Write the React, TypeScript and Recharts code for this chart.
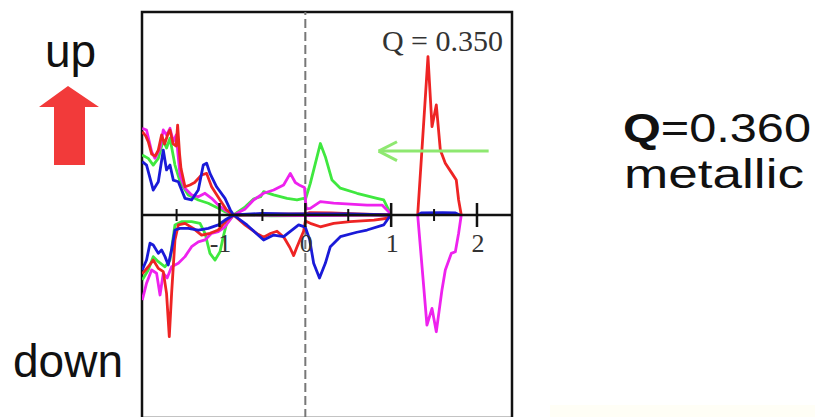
import React from "react";
import {
  ComposedChart,
  Line,
  Scatter,
  XAxis,
  YAxis,
  ReferenceLine,
  ReferenceArea,
} from "recharts";

// Energy axis (eV) and projected DOS, spin up positive, spin down negative.
// Each curve is a list of [energy, dos] pairs; null breaks the line.
type Pt = [number, number | null];

const redUp: Pt[] = [
  [-1.9, 4.1], [-1.86, 3.9], [-1.83, 3.61], [-1.79, 3.0], [-1.75, 2.9], [-1.713, 3.2],
  [-1.675, 3.94], [-1.64, 3.5], [-1.6, 4.0], [-1.577, 4.19], [-1.54, 3.5], [-1.505, 3.4],
  [-1.488, 4.43], [-1.465, 3.0], [-1.449, 2.3], [-1.402, 1.39], [-1.344, 1.48], [-1.29, 1.6],
  [-1.209, 1.97], [-1.15, 2.05], [-1.092, 1.39], [-0.994, 0.74], [-0.917, 0.25], [-0.836, 0],
  [-0.5, 0.04], [0, 0.05], [0.05, 0.12], [0.3, 0.1], [0.6, 0.06], [1.0, 0], [1.15, null],
  [1.309, 0], [1.36, 3.3], [1.429, 7.8], [1.476, 4.35], [1.526, 5.42], [1.573, 3.2],
  [1.631, 2.55], [1.709, 2.05], [1.759, 1.72], [1.786, 0.74], [1.817, 0],
];

const greenUp: Pt[] = [
  [-1.9, 2.96], [-1.83, 2.79], [-1.772, 2.46], [-1.713, 2.79], [-1.655, 3.69], [-1.617, 3.3],
  [-1.577, 3.78], [-1.519, 2.46], [-1.46, 1.64], [-1.364, 0.99], [-1.247, 0.74], [-1.131, 0.58],
  [-1.014, 0.33], [-0.936, 0.16], [-0.836, 0], [-0.7, 0.4], [-0.6, 0.8], [-0.52, 0.9],
  [-0.486, 1.15], [-0.37, 0.99], [-0.213, 0.82], [-0.097, 0.74], [-0.02, 0.82], [0.0, 0.75],
  [0.058, 1.56], [0.175, 3.52], [0.233, 2.87], [0.311, 1.72], [0.408, 1.32], [0.602, 1.07],
  [0.835, 0.82], [0.913, 0.74], [0.971, 0.25], [1.0, 0], [1.15, null], [1.55, 0], [1.6, 0.05],
  [1.75, 0.05], [1.8, 0],
];

const blueUp: Pt[] = [
  [-1.9, 2.63], [-1.85, 2.46], [-1.772, 1.23], [-1.713, 1.64], [-1.655, 3.2], [-1.617, 2.22],
  [-1.577, 2.46], [-1.538, 1.72], [-1.48, 1.64], [-1.402, 0.82], [-1.325, 0.74], [-1.247, 1.23],
  [-1.189, 2.46], [-1.15, 2.55], [-1.111, 2.05], [-1.034, 1.39], [-0.936, 0.82], [-0.874, 0.25],
  [-0.836, 0], [-0.5, 0.08], [-0.2, 0.06], [0, 0.05], [0.5, 0.05], [1.0, 0], [1.15, null],
  [1.31, 0], [1.35, 0.1], [1.6, 0.12], [1.75, 0.1], [1.8, 0],
];

const magentaUp: Pt[] = [
  [-1.9, 4.27], [-1.85, 4.19], [-1.791, 3.12], [-1.752, 2.79], [-1.693, 3.29], [-1.655, 4.19],
  [-1.617, 3.94], [-1.577, 4.27], [-1.538, 3.61], [-1.505, 3.94], [-1.46, 1.97], [-1.402, 1.32],
  [-1.325, 0.99], [-1.247, 0.9], [-1.169, 1.07], [-1.092, 0.82], [-1.014, 0.49], [-0.936, 0.25],
  [-0.836, 0], [-0.7, 0.3], [-0.603, 0.74], [-0.486, 1.07], [-0.369, 1.23], [-0.253, 1.48],
  [-0.175, 2.05], [-0.117, 1.6], [-0.06, 1.45], [-0.01, 1.35], [0.01, 0.3], [0.058, 0.33],
  [0.175, 0.66], [0.33, 0.58], [0.719, 0.49], [0.894, 0.49], [0.971, 0.16], [1.0, 0],
];

const redDown: Pt[] = [
  [-1.9, -2.9], [-1.83, -2.55], [-1.772, -2.22], [-1.713, -2.63], [-1.655, -2.79],
  [-1.617, -3.86], [-1.585, -5.99], [-1.558, -3.86], [-1.519, -1.23], [-1.48, -0.49],
  [-1.402, -0.41], [-1.305, -0.66], [-1.209, -0.99], [-1.111, -0.9], [-1.014, -0.74],
  [-0.917, -0.25], [-0.836, 0], [-0.7, -0.5], [-0.55, -0.95], [-0.486, -1.1], [-0.4, -0.9],
  [-0.33, -0.8], [-0.25, -1.1], [-0.18, -1.6], [-0.136, -2.0], [-0.1, -1.6], [-0.06, -1.2],
  [-0.02, -0.8], [0.0, -0.3], [0.058, -0.41], [0.175, -0.58], [0.33, -0.41], [0.52, -0.33],
  [0.8, -0.25], [0.955, -0.16], [1.0, 0],
];

const greenDown: Pt[] = [
  [-1.9, -3.2], [-1.83, -2.71], [-1.772, -2.05], [-1.713, -2.3], [-1.635, -2.55],
  [-1.577, -2.22], [-1.519, -0.49], [-1.442, -0.33], [-1.325, -0.33], [-1.227, -0.41],
  [-1.169, -0.9], [-1.111, -1.89], [-1.052, -2.22], [-0.994, -1.81], [-0.956, -1.07],
  [-0.917, -0.41], [-0.836, 0], [-0.4, -0.04], [0, -0.03], [1.0, 0],
];

const blueDown: Pt[] = [
  [-1.9, -2.71], [-1.85, -2.22], [-1.81, -1.39], [-1.772, -1.48], [-1.713, -1.89],
  [-1.675, -1.72], [-1.635, -2.05], [-1.597, -2.46], [-1.558, -1.72], [-1.519, -0.74],
  [-1.46, -0.66], [-1.364, -0.66], [-1.247, -0.74], [-1.131, -0.66], [-1.014, -0.49],
  [-0.936, -0.25], [-0.836, 0], [-0.68, -0.49], [-0.486, -1.23], [-0.369, -0.99],
  [-0.253, -1.07], [-0.078, -0.49], [0.0, -0.6], [0.05, -1.2], [0.097, -2.38], [0.165, -3.1],
  [0.233, -2.38], [0.291, -1.56], [0.408, -1.07], [0.6, -0.85], [0.719, -0.74], [0.913, -0.49],
  [0.97, -0.15], [1.0, 0],
];

const magentaDown: Pt[] = [
  [-1.9, -4.19], [-1.85, -3.36], [-1.791, -2.71], [-1.733, -2.87], [-1.693, -3.94],
  [-1.655, -2.87], [-1.61, -3.1], [-1.558, -2.55], [-1.48, -2.38], [-1.402, -2.05],
  [-1.325, -1.56], [-1.247, -1.32], [-1.169, -1.23], [-1.092, -0.9], [-1.014, -0.82],
  [-0.936, -0.58], [-0.836, 0], [0, -0.03], [1.0, 0], [1.15, null], [1.309, 0],
  [1.417, -5.42], [1.476, -4.6], [1.526, -5.75], [1.592, -3.69], [1.631, -2.71],
  [1.701, -1.89], [1.748, -1.81], [1.786, -0.9], [1.817, 0],
];

// Energy axis ticks drawn on the zero line
const majorTicks = [-1, 0, 1, 2];
const majorTickLabels = ["-1", "0", "1", "2"];
const minorTicks = [-1.5, -0.5, 0.5, 1.5];

// Arrow marking the shift of the empty state (shaft + two barbs)
const arrowShaft = { x1: 2.136, x2: 0.854, y: 3.15 };
const arrowBarbs = [
  { x: 1.068, y: 3.61 },
  { x: 1.068, y: 2.68 },
];

const X_DOMAIN: [number, number] = [-1.903, 2.408];
const Y_DOMAIN: [number, number] = [-10, 10];

const RED = "#ee2424";
const GREEN = "#3fe83f";
const BLUE = "#1a1ad8";
const MAGENTA = "#ee22ee";
const ARROW_GREEN = "#8ee870";

const toRows = (pts: Pt[]) => pts.map(([x, y]) => ({ x, y }));

const series: { name: string; pts: Pt[]; color: string }[] = [
  { name: "green-down", pts: greenDown, color: GREEN },
  { name: "green-up", pts: greenUp, color: GREEN },
  { name: "magenta-down", pts: magentaDown, color: MAGENTA },
  { name: "magenta-up", pts: magentaUp, color: MAGENTA },
  { name: "red-down", pts: redDown, color: RED },
  { name: "red-up", pts: redUp, color: RED },
  { name: "blue-down", pts: blueDown, color: BLUE },
  { name: "blue-up", pts: blueUp, color: BLUE },
];

const majorRows = majorTicks.map((x, i) => ({ x, y: 0, label: majorTickLabels[i] }));
const minorRows = minorTicks.map((x) => ({ x, y: 0 }));

const serif = "'Liberation Serif', 'Times New Roman', serif";
const sans = "'Liberation Sans', Arial, sans-serif";

const MajorTick = (props: any) => {
  const { cx, cy, payload } = props;
  return (
    <g>
      <line x1={cx} x2={cx} y1={cy - 12} y2={cy + 12} stroke="#111" strokeWidth={2.5} />
      <text
        x={cx + 1}
        y={cy + 37}
        textAnchor="middle"
        fontFamily={serif}
        fontSize={26}
        fill="#333"
      >
        {payload.label}
      </text>
    </g>
  );
};

const MinorTick = (props: any) => {
  const { cx, cy } = props;
  return <line x1={cx} x2={cx} y1={cy - 6} y2={cy + 6} stroke="#111" strokeWidth={2} />;
};

export default function App() {
  return (
    <div
      style={{
        position: "absolute",
        left: 0,
        top: 0,
        width: 815,
        height: 417,
        overflow: "hidden",
        background: "#fff",
      }}
    >
      <ComposedChart
        width={815}
        height={430}
        margin={{ top: 12, right: 303, bottom: 12, left: 142 }}
      >
        <XAxis type="number" dataKey="x" domain={X_DOMAIN} hide allowDataOverflow />
        <YAxis type="number" dataKey="y" domain={Y_DOMAIN} hide allowDataOverflow />
        <ReferenceLine
          x={0}
          stroke="#777"
          strokeWidth={2}
          strokeDasharray="9 4"
          ifOverflow="visible"
        />
        {series.map((s) => (
          <Line
            key={s.name}
            data={toRows(s.pts)}
            dataKey="y"
            type="linear"
            stroke={s.color}
            strokeWidth={2.8}
            strokeLinejoin="round"
            dot={false}
            activeDot={false}
            connectNulls={false}
            isAnimationActive={false}
          />
        ))}
        <ReferenceLine y={0} stroke="#111" strokeWidth={2.5} ifOverflow="visible" />
        <Scatter data={minorRows} dataKey="y" shape={MinorTick} isAnimationActive={false} />
        <Scatter data={majorRows} dataKey="y" shape={MajorTick} isAnimationActive={false} />
        <ReferenceLine
          segment={[
            { x: arrowShaft.x1, y: arrowShaft.y },
            { x: arrowShaft.x2, y: arrowShaft.y },
          ]}
          stroke={ARROW_GREEN}
          strokeWidth={3}
          ifOverflow="visible"
        />
        {arrowBarbs.map((b, i) => (
          <ReferenceLine
            key={i}
            segment={[
              { x: arrowShaft.x2, y: arrowShaft.y },
              { x: b.x, y: b.y },
            ]}
            stroke={ARROW_GREEN}
            strokeWidth={3}
            ifOverflow="visible"
          />
        ))}
        <ReferenceArea
          x1={X_DOMAIN[0]}
          x2={X_DOMAIN[1]}
          y1={Y_DOMAIN[0]}
          y2={Y_DOMAIN[1]}
          fill="none"
          fillOpacity={0}
          stroke="#111"
          strokeWidth={2.5}
          ifOverflow="visible"
        />
      </ComposedChart>

      <svg
        width={815}
        height={417}
        style={{ position: "absolute", left: 0, top: 0, pointerEvents: "none" }}
      >
        <text x={503} y={51} textAnchor="end" fontFamily={serif} fontSize={30} fill="#333">
          Q = 0.350
        </text>

        <text x={45} y={67} fontFamily={sans} fontSize={46} fill="#111">
          up
        </text>
        <polygon
          points="68,86 39,107 54,107 54,165 85,165 85,107 99,107"
          fill="#f23a3a"
        />
        <text x={13} y={377} fontFamily={sans} fontSize={46} fill="#111">
          down
        </text>

        <text
          x={623}
          y={142}
          fontFamily={sans}
          fontSize={40}
          fill="#111"
          textLength={188}
          lengthAdjust="spacingAndGlyphs"
        >
          <tspan fontWeight="bold">Q</tspan>
          <tspan>=0.360</tspan>
        </text>
        <text
          x={624}
          y={188}
          fontFamily={sans}
          fontSize={40}
          fill="#111"
          textLength={180}
          lengthAdjust="spacingAndGlyphs"
        >
          metallic
        </text>

        <rect x={550} y={405} width={265} height={12} fill="#fffef6" />
      </svg>
    </div>
  );
}
